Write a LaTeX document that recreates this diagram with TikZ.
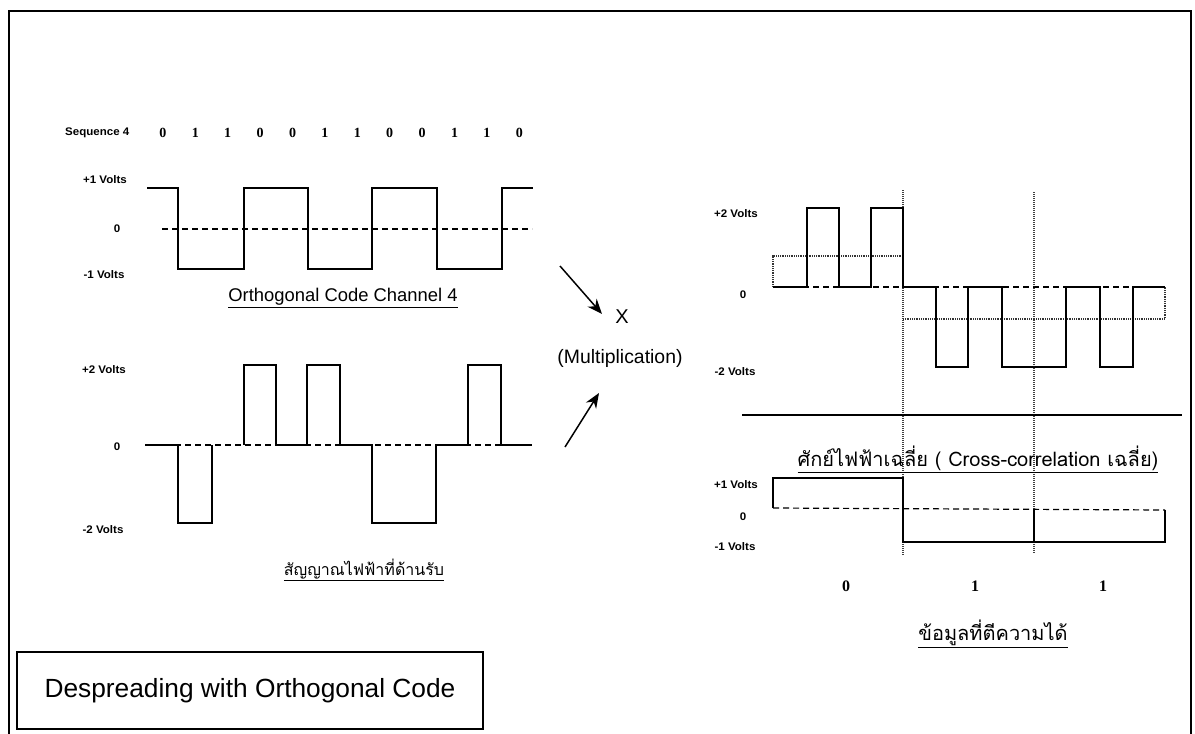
\documentclass[tikz,border=0pt]{standalone}
\usepackage{fontspec}
\setmainfont{Liberation Sans}
\newfontfamily\thaifont[Script=Thai]{Loma}
\newfontfamily\lblfont[FakeStretch=1.05]{Liberation Sans Bold}
\newfontfamily\numfont{Liberation Serif Bold}
\usetikzlibrary{arrows.meta}
\begin{document}
\begin{tikzpicture}[x=1pt,y=-1pt,
  wave/.style={line width=1.3pt, line join=miter},
  zeroline/.style={line width=1.2pt, dash pattern=on 6pt off 4pt},
  avgline/.style={line width=1.3pt, dash pattern=on 1pt off 0.8pt, black!80},
  divline/.style={line width=1.1pt, dash pattern=on 1pt off 1pt, black!75},
  vlbl/.style={font=\lblfont\fontsize{11}{13}\selectfont, inner sep=0pt},
  seqnum/.style={font=\numfont\fontsize{14}{16}\selectfont, inner sep=0pt},
  bitnum/.style={font=\numfont\fontsize{16}{18}\selectfont, inner sep=0pt},
  caption/.style={font=\fontsize{18.4}{20}\selectfont, inner sep=0pt},
  thaicap/.style={font=\thaifont, inner sep=0pt},
  arr/.style={line width=1.5pt, -{Stealth[length=15pt,width=12pt]}}
]
\useasboundingbox (0,0) rectangle (1195,734);
\fill[white] (0,0) rectangle (1195,734);
% outer frame
\draw[line width=1.4pt] (9,734) -- (9,11) -- (1191,11) -- (1191,734);

% ---- sequence
\node[vlbl, anchor=west] (seqlbl) at (65,133) {Sequence 4};
\foreach \b [count=\i] in {0,1,1,0,0,1,1,0,0,1,1,0} {
  \node[seqnum] (s\i) at ({130.5+32.4*\i},133) {\b};
}

% ---- orthogonal code waveform
\node[vlbl] (p1v) at (105,180) {+1 Volts};
\node[vlbl] (z1) at (117,229) {0};
\node[vlbl] (m1v) at (104,275) {-1 Volts};
\draw[zeroline] (162,229) -- (532,229);
\draw[wave] (147,188) -| (178,269) -| (244,188) -| (308,269) -| (372,188) -| (437,269) -| (502,188) -- (533,188);
\node[caption] (occ) at (343,298) {\underline{Orthogonal Code Channel 4}};

% ---- received signal
\node[vlbl] (p2v) at (104,370) {+2 Volts};
\node[vlbl] (z2) at (117,447) {0};
\node[vlbl] (m2v) at (103,530) {-2 Volts};
\draw[zeroline] (145,445) -- (532,445);
\draw[wave] (145,445) -- (178,445) -- (178,523) -- (212,523) -- (212,445);
\draw[wave] (244,445) -- (244,365) -- (276,365) -- (276,445) -- (307,445) -- (307,365) -- (340,365) -- (340,445) -- (372,445) -- (372,523) -- (436,523) -- (436,445) -- (468,445) -- (468,365) -- (501,365) -- (501,445) -- (532,445);
\node[thaicap, font=\thaifont\fontsize{16}{19}\selectfont] (rx) at (364,570) {\underline{สัญญาณไฟฟ้าที่ด้านรับ}};

% ---- multiplication
\coordinate (a1s) at (560,266);
\coordinate (a1e) at (602,314);
\coordinate (a2s) at (565,447);
\coordinate (a2e) at (599,393);
\draw[arr] (a1s) -- (a1e);
\draw[arr] (a2s) -- (a2e);
\node[font=\fontsize{20}{22}\selectfont, inner sep=0pt] (times) at (622,317) {X};
\node[font=\fontsize{19.4}{21}\selectfont, inner sep=0pt] (mult) at (620,358) {(Multiplication)};

% ---- product waveform (right)
\node[vlbl] (p2r) at (736,214) {+2 Volts};
\node[vlbl] (z3) at (743,295) {0};
\node[vlbl] (m2r) at (735,372) {-2 Volts};
\draw[divline] (903,190) -- (903,556);
\draw[divline] (1034,192) -- (1034,553);
\draw[avgline] (773,287) -- (773,256) -- (903,256);
\draw[avgline] (903,319) -- (1165,319) -- (1165,287);
\draw[zeroline] (773,287) -- (1165,287);
\draw[wave] (773,287) -- (807,287) -- (807,208) -- (839,208) -- (839,287) -- (871,287) -- (871,208) -- (903,208) -- (903,287) -- (936,287) -- (936,367) -- (968,367) -- (968,287) -- (1002,287) -- (1002,367) -- (1066,367) -- (1066,287) -- (1100,287) -- (1100,367) -- (1133,367) -- (1133,287) -- (1165,287);
\draw[line width=2pt] (742,415) -- (1182,415);

% ---- cross-correlation
\node[thaicap, font=\thaifont\fontsize{20}{23}\selectfont] (xc) at (978,459) {\underline{ศักย์ไฟฟ้าเฉลี่ย ( Cross-correlation เฉลี่ย)}};
\node[vlbl] (p1r) at (736,485) {+1 Volts};
\node[vlbl] (z4) at (743,517) {0};
\node[vlbl] (m1r) at (735,547) {-1 Volts};
\draw[zeroline] (773,508) -- (1165,510);
\draw[wave] (773,508) -- (773,478) -- (903,478) -- (903,542) -- (1165,542) -- (1165,510);
\draw[wave] (1034,510) -- (1034,542);
\node[bitnum] (b1) at (846,586) {0};
\node[bitnum] (b2) at (975,586) {1};
\node[bitnum] (b3) at (1103,586) {1};
\node[thaicap, font=\thaifont\fontsize{20}{23}\selectfont] (dec) at (993,634) {\underline{ข้อมูลที่ตีความได้}};

% ---- title box
\node[draw, line width=1.2pt, minimum width=466pt, minimum height=77pt, inner sep=0pt,
      font=\fontsize{26.3}{29}\selectfont] (title) at (250,690.5) {Despreading with Orthogonal Code};
\end{tikzpicture}
\end{document}
